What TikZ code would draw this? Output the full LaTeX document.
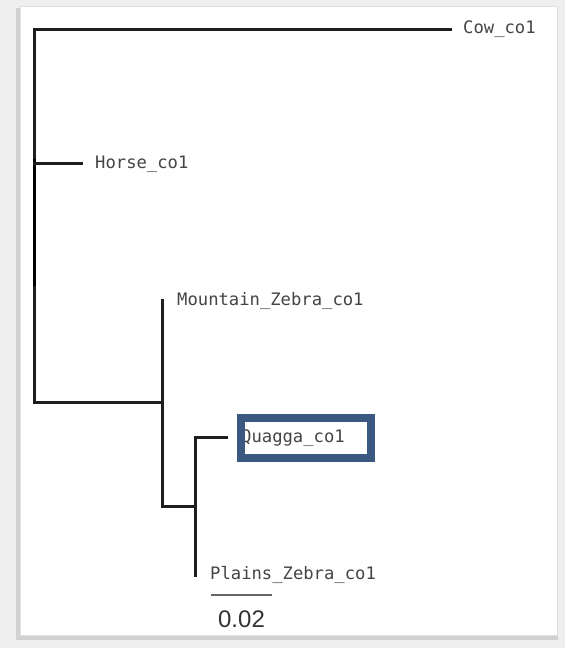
\documentclass[tikz,border=0pt]{standalone}
\usepackage{fontspec}
\newfontfamily\labfont{DejaVu Sans Mono}
\newfontfamily\scalefont{Liberation Sans}
\definecolor{bgout}{HTML}{EFEFEF}
\definecolor{boxblue}{HTML}{3B5880}
\definecolor{branch}{HTML}{1E1E1E}
\definecolor{labgray}{HTML}{444444}
\tikzset{
  br/.style={draw=branch, line width=3pt, line cap=rect},
  taxon/.style={anchor=west, inner sep=0pt, text=labgray, font=\labfont\fontsize{17.2}{19}\selectfont},
  hilite/.style={draw=boxblue, line width=8pt},
}
\begin{document}
\begin{tikzpicture}[x=1pt,y=-1pt]
% background and panel
\fill[bgout] (0,0) rectangle (565,648);
\fill[black!18] (16,8) rectangle (558,640);
\fill[white] (20,6) rectangle (557,635);
\draw[black!12, line width=0.8pt] (20,6) rectangle (557,635);
\useasboundingbox (0,0) rectangle (565,648);

% internal nodes
\coordinate (root) at (34,29);
\coordinate (rootb) at (34,402);
\coordinate (n1) at (162,402);
\coordinate (n1t) at (162,300);
\coordinate (n1b) at (162,506);
\coordinate (n2) at (195,506);
\coordinate (n2t) at (195,437);
\coordinate (n2b) at (195,575);

% leaf ends
\coordinate (cowE) at (450,29);
\coordinate (horseS) at (34,163);
\coordinate (horseE) at (81,163);
\coordinate (quagE) at (226,437);

% labels
\node[taxon] (cow) at (463,29) {Cow\_co1};
\node[taxon] (horse) at (95,164) {Horse\_co1};
\node[taxon] (mtn) at (177,301) {Mountain\_Zebra\_co1};
\node[taxon] (quag) at (241,438) {Quagga\_co1};
\node[taxon] (plains) at (210,575) {Plains\_Zebra\_co1};

% branches
\draw[br] (cowE) -- (root) -- (rootb) -- (n1);
\draw[br, draw=black] (34,160) -- (34,284);
\draw[br] (horseS) -- (horseE);
\draw[br] (n1t) -- (n1b) -- (n2);
\draw[br] (quagE) -- (n2t) -- (n2b);

% highlight box
\node[hilite, minimum width=130pt, minimum height=40pt, inner sep=0pt] (hbox) at (306,438) {};

% scale bar
\coordinate (sbL) at (211,595);
\coordinate (sbR) at (272,595);
\draw[black!60, line width=1.8pt] (sbL) -- (sbR);
\node[inner sep=0pt, text=black!80, font=\scalefont\fontsize{24}{26}\selectfont] (scale) at (241.5,619) {0.02};
\end{tikzpicture}
\end{document}
